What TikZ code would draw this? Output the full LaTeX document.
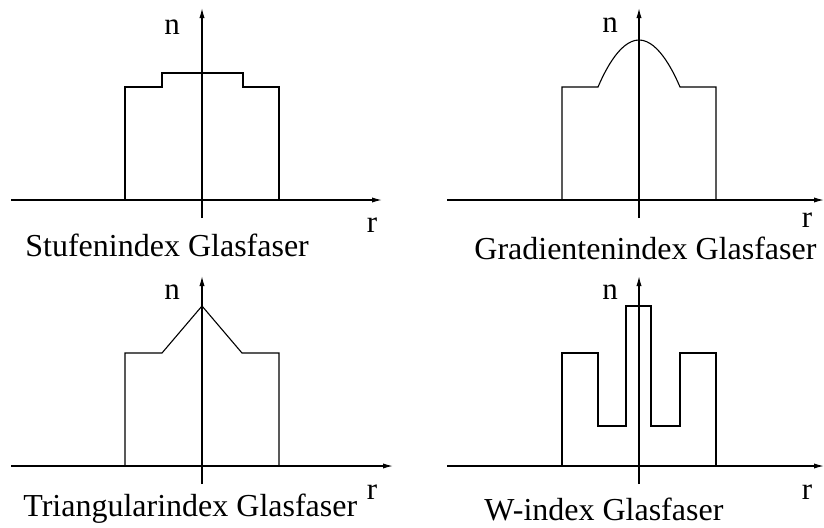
\documentclass[tikz,border=0pt]{standalone}
\usepackage{fontspec}
\setmainfont{Liberation Serif}
\usetikzlibrary{arrows.meta}
\tikzset{
  axis/.style={-{Latex[length=5pt,width=2.6pt]}, line width=0.6pt},
  profile/.style={line width=0.55pt},
  axlbl/.style={font=\fontsize{15.5}{17}\selectfont, inner sep=0pt},
  caption/.style={font=\fontsize{16}{18}\selectfont, inner sep=0pt, anchor=west},
}
\begin{document}
\begin{tikzpicture}[x=0.5pt,y=0.5pt]
\useasboundingbox (0,0) rectangle (824,527);
% ---------------- step index
\begin{scope}[shift={(202,327)}]
\draw[profile] (-77,0) |- (-40,113) |- (41,127) |- (77,113) -- (77,0);
\draw[axis] (-191,0) -- (180,0);
\draw[axis] (0,-18) -- (0,192);
\node[axlbl] (n1) at (-30,173) {n};
\node[axlbl] (r1) at (170,-25) {r};
\node[caption] (cap1) at (-177,-45) {Stufenindex Glasfaser};
\end{scope}
% ---------------- graded index
\begin{scope}[shift={(639,327)}]
\draw[profile] (-77,0) |- (-41,113) parabola bend (0,160) (41,113) -| (77,0);
\draw[axis] (-192,0) -- (185,0);
\draw[axis] (0,-18) -- (0,192);
\node[axlbl] (n2) at (-29,175) {n};
\node[axlbl] (r2) at (168,-20) {r};
\node[caption] (cap2) at (-165,-48) {Gradientenindex Glasfaser};
\end{scope}
% ---------------- triangular index
\begin{scope}[shift={(202,61)}]
\draw[profile] (-77,0) |- (-40,113) -- (0,160) -- (40,113) -| (77,0);
\draw[axis] (-191,0) -- (191,0);
\draw[axis] (0,-18) -- (0,190);
\node[axlbl] (n3) at (-30,174) {n};
\node[axlbl] (r3) at (170,-26) {r};
\node[caption] (cap3) at (-179,-43) {Triangularindex Glasfaser};
\end{scope}
% ---------------- W index
\begin{scope}[shift={(639,61)}]
\draw[profile] (-77,0) |- (-41,113) |- (-13,40) |- (12,160) |- (41,40) |- (77,113) -- (77,0);
\draw[axis] (-192,0) -- (185,0);
\draw[axis] (0,-18) -- (0,190);
\node[axlbl] (n4) at (-29,174) {n};
\node[axlbl] (r4) at (168,-26) {r};
\node[caption] (cap4) at (-155,-43) {W-index Glasfaser};
\end{scope}
\end{tikzpicture}
\end{document}
